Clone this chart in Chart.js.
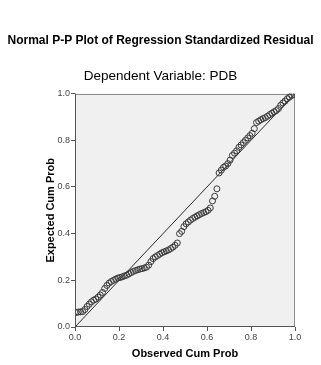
<!DOCTYPE html>
<html>
<head>
<meta charset="utf-8">
<script src="https://cdn.jsdelivr.net/npm/chart.js@4/dist/chart.umd.min.js"></script>
<style>
  html, body { margin: 0; padding: 0; background: #ffffff; }
  #wrap { width: 321px; height: 365px; }
</style>
</head>
<body>
<div id="wrap"><canvas id="c" width="321" height="365"></canvas></div>
<script>
// Observed cumulative probability (x) and expected cumulative probability (y)
const observedCumProb = [
  0.005, 0.015, 0.025, 0.035, 0.045, 0.055, 0.065, 0.075, 0.085, 0.095,
  0.105, 0.115, 0.125, 0.135, 0.145, 0.155, 0.165, 0.175, 0.185, 0.195,
  0.205, 0.215, 0.225, 0.235, 0.245, 0.255, 0.265, 0.275, 0.285, 0.295,
  0.305, 0.315, 0.325, 0.335, 0.345, 0.355, 0.365, 0.375, 0.385, 0.395,
  0.405, 0.415, 0.425, 0.435, 0.445, 0.455, 0.465, 0.475, 0.485, 0.495,
  0.505, 0.515, 0.525, 0.535, 0.545, 0.555, 0.565, 0.575, 0.585, 0.595,
  0.605, 0.615, 0.625, 0.635, 0.645, 0.655, 0.665, 0.675, 0.685, 0.695,
  0.705, 0.715, 0.725, 0.735, 0.745, 0.755, 0.765, 0.775, 0.785, 0.795,
  0.805, 0.815, 0.825, 0.835, 0.845, 0.855, 0.865, 0.875, 0.885, 0.895,
  0.905, 0.915, 0.925, 0.935, 0.945, 0.955, 0.965, 0.975, 0.985, 0.995
];
const expectedCumProb = [
  0.062, 0.064, 0.065, 0.066, 0.075, 0.088, 0.098, 0.108, 0.115, 0.120,
  0.128, 0.137, 0.148, 0.165, 0.178, 0.188, 0.195, 0.200, 0.205, 0.210,
  0.212, 0.215, 0.219, 0.222, 0.228, 0.233, 0.238, 0.242, 0.245, 0.248,
  0.250, 0.253, 0.256, 0.265, 0.280, 0.293, 0.300, 0.306, 0.312, 0.318,
  0.322, 0.326, 0.330, 0.336, 0.342, 0.350, 0.360, 0.400, 0.410, 0.430,
  0.442, 0.450, 0.458, 0.465, 0.470, 0.476, 0.481, 0.486, 0.490, 0.494,
  0.500, 0.510, 0.540, 0.560, 0.592, 0.660, 0.672, 0.684, 0.690, 0.700,
  0.715, 0.735, 0.745, 0.755, 0.770, 0.780, 0.790, 0.800, 0.810, 0.820,
  0.830, 0.850, 0.876, 0.882, 0.888, 0.893, 0.897, 0.903, 0.910, 0.916,
  0.922, 0.927, 0.936, 0.950, 0.960, 0.968, 0.978, 0.985, 0.992, 0.997
];
// Diagonal reference line
const refLineX = [0, 1];
const refLineY = [0, 1];
// Axis tick labels
const tickValues = [0.0, 0.2, 0.4, 0.6, 0.8, 1.0];

const titleText = 'Normal P-P Plot of Regression Standardized Residual';
const subtitleText = 'Dependent Variable: PDB';
const xTitle = 'Observed Cum Prob';
const yTitle = 'Expected Cum Prob';

const FONT = '"Liberation Sans", Arial, sans-serif';

const pointData = observedCumProb.map((x, i) => ({ x: x, y: expectedCumProb[i] }));
const lineData = refLineX.map((x, i) => ({ x: x, y: refLineY[i] }));

const plotBg = {
  id: 'plotBg',
  beforeDatasetsDraw(chart) {
    const { ctx, chartArea: a } = chart;
    ctx.save();
    ctx.fillStyle = '#f0f0f0';
    ctx.fillRect(a.left, a.top, a.right - a.left, a.bottom - a.top);
    ctx.strokeStyle = '#8c8c8c';
    ctx.lineWidth = 1;
    ctx.strokeRect(Math.round(a.left) + 0.5, Math.round(a.top) + 0.5,
      Math.round(a.right - a.left) - 1, Math.round(a.bottom - a.top) - 1);
    ctx.restore();
  },
  afterDraw(chart) {
    const { ctx, chartArea: a } = chart;
    ctx.save();
    ctx.strokeStyle = '#555555';
    ctx.lineWidth = 1;
    ctx.beginPath();
    ctx.moveTo(Math.round(a.left) + 0.5, a.top);
    ctx.lineTo(Math.round(a.left) + 0.5, Math.round(a.bottom) - 0.5);
    ctx.lineTo(a.right, Math.round(a.bottom) - 0.5);
    ctx.stroke();
    ctx.restore();
  }
};

new Chart(document.getElementById('c'), {
  type: 'scatter',
  data: {
    datasets: [
      {
        type: 'line',
        data: lineData,
        borderColor: '#2a2a2a',
        borderWidth: 1,
        pointRadius: 0,
        fill: false,
        order: 2
      },
      {
        data: pointData,
        pointStyle: 'circle',
        pointRadius: 3,
        pointBorderWidth: 1,
        pointBorderColor: '#3a3a3a',
        pointBackgroundColor: 'rgba(0,0,0,0)',
        order: 1
      }
    ]
  },
  plugins: [plotBg],
  options: {
    responsive: false,
    animation: false,
    devicePixelRatio: 1,
    layout: { padding: { left: 0, right: 0, top: 0, bottom: 0 } },
    plugins: {
      legend: { display: false },
      tooltip: { enabled: false },
      title: {
        display: true,
        text: titleText,
        color: '#000000',
        font: { family: FONT, size: 12, weight: 'bold', lineHeight: 1.2 },
        padding: { top: 33, bottom: 21 }
      },
      subtitle: {
        display: true,
        text: subtitleText,
        color: '#000000',
        font: { family: FONT, size: 13.5, weight: 'normal', lineHeight: 1.2 },
        padding: { top: 0, bottom: 9 }
      }
    },
    scales: {
      x: {
        type: 'linear',
        min: 0, max: 1,
        afterFit(s) { s.height = 38; },
        afterBuildTicks(s) { s.ticks = tickValues.map(v => ({ value: v })); },
        grid: { display: true, drawOnChartArea: false, drawTicks: true, tickLength: 4, color: '#555555' },
        border: { display: false },
        ticks: {
          color: '#444444',
          padding: 1,
          maxRotation: 0,
          font: { family: FONT, size: 9 },
          callback: v => Number(v).toFixed(1)
        },
        title: {
          display: true,
          text: xTitle,
          color: '#000000',
          font: { family: FONT, size: 11, weight: 'bold', lineHeight: 1.2 },
          padding: { top: 0, bottom: 4 }
        }
      },
      y: {
        type: 'linear',
        min: 0, max: 1,
        afterFit(s) { s.width = 75; },
        afterBuildTicks(s) { s.ticks = tickValues.map(v => ({ value: v })); },
        grid: { display: true, drawOnChartArea: false, drawTicks: true, tickLength: 4, color: '#555555' },
        border: { display: false },
        ticks: {
          color: '#444444',
          padding: 1,
          font: { family: FONT, size: 9 },
          callback: v => Number(v).toFixed(1)
        },
        title: {
          display: true,
          text: yTitle,
          color: '#000000',
          font: { family: FONT, size: 11, weight: 'bold', lineHeight: 1.2 },
          padding: { top: 44, bottom: 0 }
        }
      },
      ySpace: {
        type: 'linear',
        position: 'right',
        min: 0, max: 1,
        display: true,
        afterFit(s) { s.width = 26; },
        grid: { display: false },
        border: { display: false },
        ticks: { display: false }
      }
    }
  }
});
</script>
</body>
</html>
